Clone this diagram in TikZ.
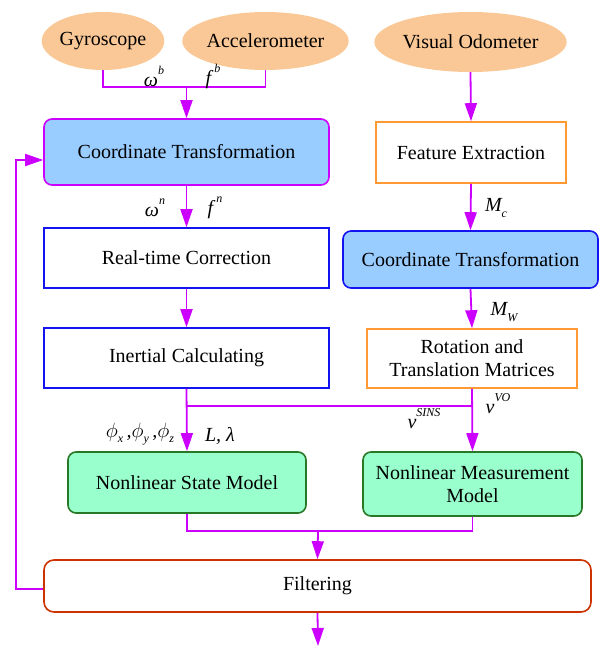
\documentclass[tikz,border=0pt]{standalone}
\usepackage{fontspec}
\setmainfont{Liberation Serif}
\newfontfamily\timesx{Liberation Serif}
\usetikzlibrary{arrows.meta,shapes.geometric}
\definecolor{mag}{RGB}{204,0,255}
\definecolor{ellfill}{RGB}{250,200,150}
\definecolor{bluefill}{RGB}{153,204,255}
\definecolor{greenfill}{RGB}{153,255,204}
\definecolor{greenline}{RGB}{40,120,40}
\definecolor{orangeline}{RGB}{255,153,51}
\definecolor{blueline}{RGB}{20,20,240}
\definecolor{redline}{RGB}{204,51,0}
\newcommand\supx[1]{\raisebox{1.3ex}{\fontsize{12}{12}\selectfont\itshape #1}}
\newcommand\subx[1]{\raisebox{-0.6ex}{\fontsize{12}{12}\selectfont\itshape #1}}
\newcommand\phix{\ensuremath{\phi}}
\begin{document}
\begin{tikzpicture}[x=1pt,y=-1pt,
  every node/.style={font=\timesx\fontsize{20}{23}\selectfont},
  ell/.style={ellipse,fill=ellfill,draw=none,inner sep=0pt},
  boxbase/.style={rectangle,line width=1.6pt,align=center,inner sep=0pt},
  ctbox/.style={boxbase,fill=bluefill,rounded corners=8pt},
  plainbox/.style={boxbase,fill=white},
  greenbox/.style={boxbase,fill=greenfill,draw=greenline,rounded corners=8pt},
  filtbox/.style={boxbase,fill=white,draw=redline,rounded corners=10pt},
  conn/.style={draw=mag,line width=1.8pt},
  arr/.style={conn,-{Triangle[length=18pt,width=12pt]}},
  lab/.style={inner sep=0pt,font=\timesx\itshape\fontsize{20}{23}\selectfont}]
\useasboundingbox (0,0) rectangle (601,646);

% sources
\node[ell,minimum width=120pt,minimum height=58pt] (gyro) at (103,41) {Gyroscope};
\node[ell,minimum width=135pt,minimum height=58pt] (acc) at (265.5,41) {Accelerometer};
\node[ell,minimum width=167pt,minimum height=60pt] (vo) at (470.5,42) {Visual Odometer};

% left column
\node[ctbox,draw=mag,minimum width=285pt,minimum height=66pt] (ct1) at (186.5,152) {Coordinate Transformation};
\node[plainbox,draw=blueline,minimum width=285pt,minimum height=60pt] (rtc) at (186.5,258) {Real-time Correction};
\node[plainbox,draw=blueline,minimum width=285pt,minimum height=60pt] (ic) at (186.5,358) {Inertial Calculating};

% right column
\node[plainbox,draw=orangeline,minimum width=190pt,minimum height=61pt] (fe) at (471,152.5) {Feature Extraction};
\node[ctbox,draw=blueline,minimum width=255pt,minimum height=57pt] (ct2) at (470.5,259.5) {Coordinate Transformation};
\node[plainbox,draw=orangeline,minimum width=210pt,minimum height=59pt] (rot) at (472,358.5) {Rotation and\\Translation Matrices};

% models
\node[greenbox,minimum width=238pt,minimum height=61pt] (nsm) at (187,482.5) {Nonlinear State Model};
\node[greenbox,minimum width=219pt,minimum height=64pt] (nmm) at (472.5,484) {Nonlinear Measurement\\Model};

% filtering
\node[filtbox,minimum width=547pt,minimum height=52pt] (filt) at (317.5,586) {Filtering};

% junction coordinates
\coordinate (j1) at (186.5,87);
\coordinate (b1) at (186.5,406);
\coordinate (b2) at (472,406);
\coordinate (j2) at (318,531);
\coordinate (out) at (318,646);

% connectors
\draw[conn] (gyro.south) |- (j1) -| (acc.south);
\draw[arr] (j1) -- (ct1.north);
\draw[arr] (ct1.south) -- (rtc.north);
\draw[arr] (rtc.south) -- (ic.north);
\draw[arr] (vo.south) -- (fe.north);
\draw[arr] (fe.south) -- (ct2.north);
\draw[arr] (ct2.south) -- (rot.north);
\draw[arr] (ic.south) -- (nsm.north);
\draw[arr] (rot.south) -- (nmm.north);
\draw[conn] (b1) -- (b2);
\draw[conn] (nsm.south) |- (j2) -| (nmm.south);
\draw[arr] (j2) -- (filt.north);
\draw[arr] (filt.south) -- (out);
\draw[arr] ([yshift=-3pt]filt.west) -- ++(-27,0) |- ([yshift=-8pt]ct1.west);

% labels
\node[lab] (lwb) at (154,76) {ω\supx{b}};
\node[lab] (lfb) at (213,76) {f\,\supx{b}};
\node[lab] (lwn) at (155,208) {ω\supx{n}};
\node[lab] (lfn) at (215,208) {f\,\supx{n}};
\node[lab] (lmc) at (496,208) {M\subx{c}};
\node[lab] (lmw) at (504,312) {M\subx{W}};
\node[lab] (lphi) at (140,434) {\phix\subx{x}\,,\phix\subx{y}\,,\phix\subx{z}};
\node[lab] (lll) at (220,436) {L, λ};
\node[lab] (lvs) at (424,419) {v\supx{SINS}};
\node[lab] (lvv) at (498,404) {v\supx{VO}};
\end{tikzpicture}
\end{document}
